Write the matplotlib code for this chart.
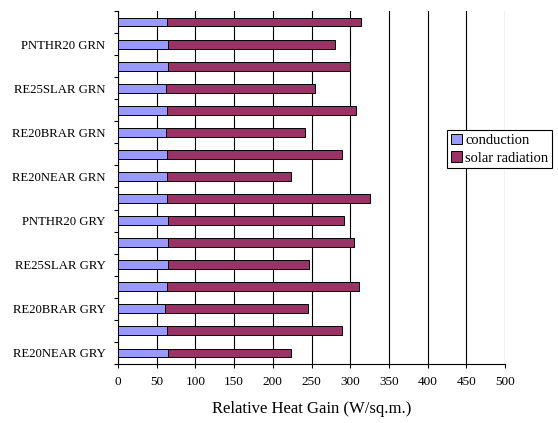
import matplotlib.pyplot as plt
import numpy as np

# categories, bottom to top (unlabelled rows left blank like the original)
labels = ['RE20NEAR GRY', '', 'RE20BRAR GRY', '', 'RE25SLAR GRY', '', 'PNTHR20 GRY', '',
          'RE20NEAR GRN', '', 'RE20BRAR GRN', '', 'RE25SLAR GRN', '', 'PNTHR20 GRN', '']
conduction = [64, 63, 61, 63, 64, 64, 64, 63, 63, 63, 62, 63, 62, 64, 64, 63]
total_gain = [224, 289, 246, 312, 247, 305, 292, 325, 223, 289, 241, 307, 254, 300, 281, 314]
solar = [t - c for t, c in zip(total_gain, conduction)]

plt.rcParams['font.family'] = ['Liberation Serif', 'DejaVu Serif']

fig = plt.figure(figsize=(5.58, 4.23), dpi=100)
ax = fig.add_axes([0.2115, 0.1395, 0.6935, 0.8345])

y = np.arange(len(labels))
ax.barh(y, conduction, height=0.4, color='#9999FF', edgecolor='black', linewidth=0.7,
        label='conduction', zorder=3)
ax.barh(y, solar, left=conduction, height=0.4, color='#993366', edgecolor='black',
        linewidth=0.7, label='solar radiation', zorder=3)

ax.set_xlim(0, 500)
ax.set_ylim(-0.5, len(labels) - 0.5)
ax.set_xticks(np.arange(0, 501, 50))
ax.tick_params(axis='x', labelsize=9.5, direction='out', length=3, width=0.8, pad=6)
ax.set_yticks(y)
ax.set_yticklabels(labels, fontsize=9.2)
ax.tick_params(axis='y', which='major', length=0, pad=9)
ax.set_yticks(np.arange(-0.5, len(labels), 1), minor=True)
ax.tick_params(axis='y', which='minor', length=3, width=0.8, direction='out')

ax.grid(axis='x', color='black', linewidth=0.8, zorder=0)
for s in ['top', 'right']:
    ax.spines[s].set_visible(False)
for s in ['left', 'bottom']:
    ax.spines[s].set_linewidth(0.8)

ax.set_xlabel('Relative Heat Gain (W/sq.m.)', fontsize=12, labelpad=9)

leg = fig.legend(loc='upper left', bbox_to_anchor=(0.801, 0.693), fontsize=10.5,
                 frameon=True, fancybox=False, edgecolor='black', framealpha=1,
                 handlelength=0.75, handleheight=0.75, handletextpad=0.25,
                 borderpad=0.25, labelspacing=0.3, borderaxespad=0)
leg.get_frame().set_linewidth(0.8)

fig.savefig('out.png', dpi=100)
